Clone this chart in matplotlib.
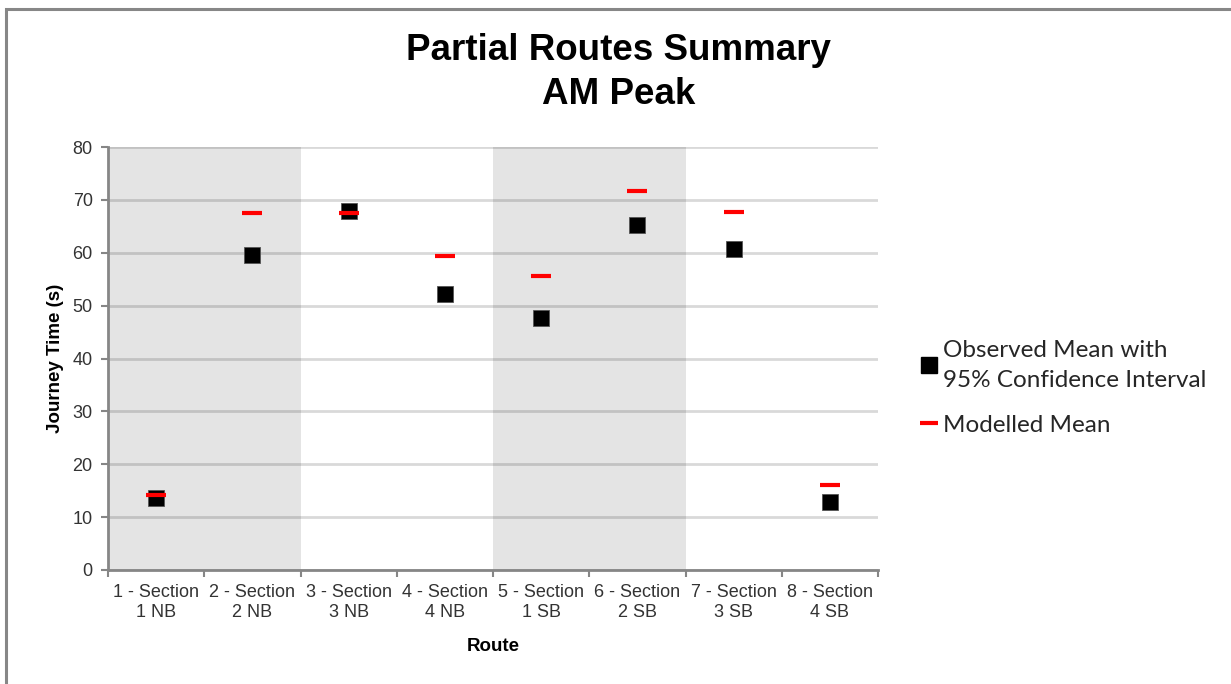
import numpy as np
import matplotlib
matplotlib.use("Agg")
import matplotlib.pyplot as plt
from matplotlib.lines import Line2D
from matplotlib.patches import Rectangle

routes = ["1 - Section\n1 NB", "2 - Section\n2 NB", "3 - Section\n3 NB", "4 - Section\n4 NB",
          "5 - Section\n1 SB", "6 - Section\n2 SB", "7 - Section\n3 SB", "8 - Section\n4 SB"]
observed_mean = [13.6, 59.5, 67.9, 52.2, 47.6, 65.3, 60.7, 12.9]
modelled_mean = [14.2, 67.6, 67.6, 59.3, 55.6, 71.7, 67.8, 16.1]
shaded_groups = [(0, 1), (4, 5)]
y_ticks = [0, 10, 20, 30, 40, 50, 60, 70, 80]

plt.rcParams['font.family'] = ['Liberation Sans', 'DejaVu Sans']

fig = plt.figure(figsize=(12.31, 6.84), dpi=100)
ax = fig.add_axes([108 / 1231, 114 / 684, 770 / 1231, 423 / 684])

# outer chart frame
fig.patches.append(Rectangle((6 / 1231, -0.1), 1.2, (675 / 684) + 0.1,
                             transform=fig.transFigure, fill=False,
                             edgecolor='#878787', linewidth=2.2))

x = np.arange(len(routes))

# shaded direction bands
for a, b in shaded_groups:
    ax.axvspan(a - 0.5, b + 0.5, color='#e4e4e4', zorder=0, linewidth=0)

ax.set_ylim(0, 80)
ax.set_xlim(-0.5, len(routes) - 0.5)
ax.set_yticks(y_ticks)
ax.yaxis.grid(True, color='black', alpha=0.15, linewidth=2)
ax.set_axisbelow(True)

ax.plot(x, observed_mean, linestyle='none', marker='s', markersize=11.5,
        color='black', markeredgecolor='#555555', markeredgewidth=0.6, zorder=3)
ax.plot(x, modelled_mean, linestyle='none', marker='_', markersize=14.5,
        markeredgewidth=3, color='#ff0000', zorder=4)

# category boundaries as ticks, labels at centres
ax.set_xticks(np.arange(-0.5, len(routes)))
ax.set_xticklabels([])
ax.set_xticks(x, minor=True)
ax.set_xticklabels(routes, minor=True, fontsize=13, color='#333333', linespacing=1.25)
ax.tick_params(axis='x', which='minor', length=0, pad=10)
ax.tick_params(axis='x', which='major', length=5, width=1.5, color='#868686')
ax.tick_params(axis='y', length=5, width=1.5, color='#868686', labelsize=13,
               labelcolor='#333333', pad=6)

for side in ['top', 'right']:
    ax.spines[side].set_visible(False)
for side in ['left', 'bottom']:
    ax.spines[side].set_color('#868686')
    ax.spines[side].set_linewidth(2)

ax.set_xlabel('Route', fontsize=13.5, fontweight='bold', labelpad=12)
ax.set_ylabel('Journey Time (s)', fontsize=13.5, fontweight='bold', labelpad=6)

fig.text(619 / 1231, 1 - 50 / 684, 'Partial Routes Summary', ha='center', va='center',
         fontsize=26.5, fontweight='bold')
fig.text(619 / 1231, 1 - 95 / 684, 'AM Peak', ha='center', va='center',
         fontsize=26.5, fontweight='bold')

handles = [
    Line2D([], [], linestyle='none', marker='s', markersize=12, color='black'),
    Line2D([], [], linestyle='none', marker='_', markersize=13, markeredgewidth=3,
           color='#ff0000'),
]
leg = fig.legend(handles, ['Observed Mean with\n95% Confidence Interval', 'Modelled Mean'],
                 loc='center left', bbox_to_anchor=(900 / 1231, 1 - 388 / 684),
                 frameon=False, prop={'family': 'Lato', 'size': 17.5},
                 handlelength=0.55, handletextpad=0.3, labelspacing=1.0,
                 labelcolor='#262626')
for t in leg.get_texts():
    t.set_linespacing(1.5)

fig.savefig('out.png', dpi=100, facecolor='white')
